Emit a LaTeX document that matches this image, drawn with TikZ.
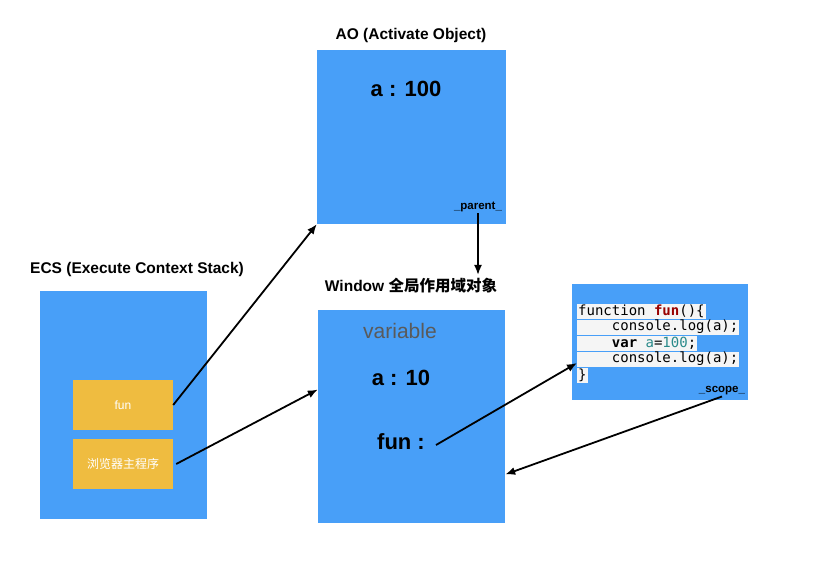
\documentclass[tikz,border=0pt]{standalone}
\usepackage{fontspec}
\setmainfont{Liberation Sans}
\setmonofont{DejaVu Sans Mono}
\newfontfamily\cjk{Noto Sans CJK SC}
\usetikzlibrary{arrows.meta}
\definecolor{boxblue}{HTML}{489FF8}
\definecolor{stackgold}{HTML}{EFBC40}
\definecolor{codebg}{HTML}{F5F5F5}
\definecolor{kwred}{HTML}{990000}
\definecolor{numteal}{HTML}{2A8A8A}
\definecolor{labelgray}{HTML}{5A5A5A}

\begin{document}
\begin{tikzpicture}[x=1pt,y=-1pt,
		box/.style={fill=boxblue,draw=none,inner sep=0pt},
		frame/.style={fill=stackgold,draw=none,inner sep=0pt,minimum width=100pt,minimum height=50pt,text=white,font=\fontsize{12}{14}\selectfont},
		title/.style={font=\bfseries\fontsize{15.5}{18}\selectfont},
		bigval/.style={font=\bfseries\fontsize{22}{26}\selectfont},
		tag/.style={font=\bfseries\fontsize{11.5}{13}\selectfont,inner sep=1pt},
		codeline/.style={anchor=west,fill=codebg,inner xsep=1pt,inner ysep=0pt,minimum height=15pt,font=\ttfamily\fontsize{14}{15}\selectfont},
		arr/.style={-{Latex[length=10pt,width=8pt]},line width=1.8pt}]
		\useasboundingbox (0,0) rectangle (821,572);
		% activation object
		\node[box,minimum width=189pt,minimum height=174pt] (ao) at (411.5,137) {};
		\node[title] (aotitle) at (411,35) {AO (Activate Object)};
		\node[bigval] (aoval) at (406,89) {a : 100};
		\node[tag] (parent) at (478,207) {\_parent\_};
		% execution context stack
		\node[box,minimum width=167pt,minimum height=228pt] (ecs) at (123.5,405) {};
		\node[title] (ecstitle) at (137,269) {ECS (Execute Context Stack)};
		\node[frame] (fun) at (123,405) {fun};
		\node[frame] (main) at (123,464) {\cjk 浏览器主程序};
		% global scope
		\node[box,minimum width=187pt,minimum height=213pt] (win) at (411.5,416.5) {};
		\node[title] (wintitle) at (411,286) {Window {\cjk\bfseries 全局作用域对象}};
		\node[text=labelgray,font=\fontsize{21}{24}\selectfont] (varlabel) at (400,331) {variable};
		\node[bigval] (winval) at (401,378) {a : 10};
		\node[bigval,inner sep=1pt] (funkey) at (401,442) {fun :};
		% function source
		\node[box,minimum width=176pt,minimum height=116pt] (code) at (660,342) {};
		\node[codeline] (l1) at (577,311) {function \textcolor{kwred}{\bfseries fun}()\{};
		\node[codeline] (l2) at (577,327) {\hphantom{0000}console.log(a);};
		\node[codeline] (l3) at (577,343) {\hphantom{0000}\textbf{var} \textcolor{numteal}{a}=\textcolor{numteal}{100};};
		\node[codeline] (l4) at (577,359) {\hphantom{0000}console.log(a);};
		\node[codeline] (l5) at (577,375) {\}};
		\node[tag] (scope) at (722,391) {\_scope\_};
		% links
		\draw[arr] (fun.east) -- (ao.south west);
		\draw[arr] ([xshift=3pt]main.east) -- ([yshift=27pt]win.west);
		\draw[arr] (parent.south) -- (parent.south |- wintitle.north);
		\draw[arr] ([xshift=10pt,yshift=-3pt]funkey.east) -- ([yshift=-4pt]l4.west);
		\draw[arr] (scope.south) -- ([yshift=-58pt]win.east);
\end{tikzpicture}
\end{document}
